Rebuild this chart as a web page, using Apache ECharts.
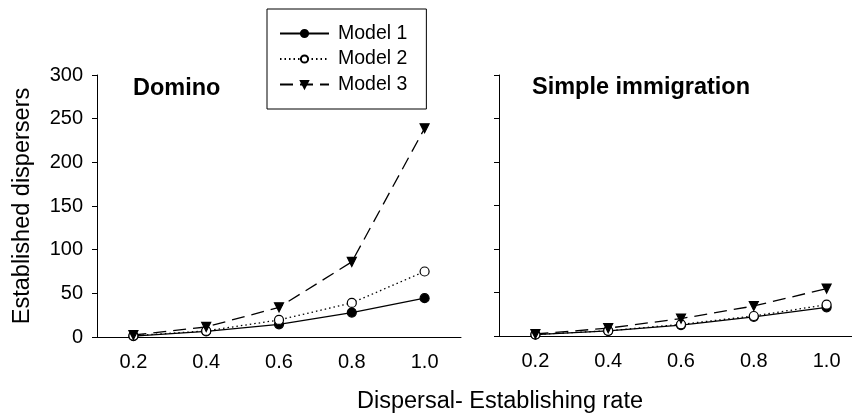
<!DOCTYPE html>
<html>
<head>
<meta charset="utf-8">
<script src="https://cdn.jsdelivr.net/npm/echarts@6/dist/echarts.min.js"></script>
<style>
  html, body { margin: 0; padding: 0; background: #fff; }
  #chart { width: 852px; height: 417px; }
</style>
</head>
<body>
<div id="chart"></div>
<script>
// dispersal-establishing rate (x categories)
const rates = ['0.2', '0.4', '0.6', '0.8', '1.0'];
const yTicks = [0, 50, 100, 150, 200, 250, 300];

// Domino panel
const dominoModel1 = [1, 6.5, 14.5, 28, 44.5];
const dominoModel2 = [1.5, 7, 19.5, 39, 75];
const dominoModel3 = [2.3, 11.5, 34, 86, 239];

// Simple immigration panel
const simpleModel1 = [1.5, 6, 12.6, 22, 33];
const simpleModel2 = [1.8, 6, 13.4, 23, 36];
const simpleModel3 = [2.3, 9, 20, 34.5, 54.5];

const FONT = 'Liberation Sans, Arial, sans-serif';
const BLACK = '#000';

const chart = echarts.init(document.getElementById('chart'));

const styles = {
  'Model 1': { symbol: 'circle', fill: BLACK, type: 'solid' },
  'Model 2': { symbol: 'circle', fill: '#fff', type: [1.5, 3] },
  'Model 3': { symbol: 'triangle', fill: BLACK, type: [13, 7], rotate: 180 },
};

function makeSeries(name, data, idx) {
  const s = styles[name];
  return {
    name,
    type: 'line',
    xAxisIndex: idx,
    yAxisIndex: idx,
    data,
    symbol: s.symbol,
    symbolSize: 9,
    symbolRotate: s.rotate || 0,
    showSymbol: true,
    lineStyle: { color: BLACK, width: 1.3, type: s.type },
    itemStyle: { color: s.fill, borderColor: BLACK, borderWidth: 1.2 },
    emphasis: { disabled: true },
  };
}

function xAxis(idx) {
  return {
    type: 'category',
    gridIndex: idx,
    data: rates,
    boundaryGap: true,
    axisLine: { lineStyle: { color: BLACK, width: 1 } },
    axisTick: { alignWithLabel: true, length: 5, lineStyle: { color: BLACK } },
    axisLabel: { color: BLACK, fontSize: 20, fontFamily: FONT, margin: 15 },
    splitLine: { show: false },
  };
}

function yAxis(idx) {
  return {
    type: 'value',
    gridIndex: idx,
    min: yTicks[0],
    max: yTicks[yTicks.length - 1],
    interval: yTicks[1] - yTicks[0],
    axisLine: { show: true, lineStyle: { color: BLACK, width: 1 } },
    axisTick: { show: true, length: 5, lineStyle: { color: BLACK } },
    axisLabel: { show: idx === 0, color: BLACK, fontSize: 20, fontFamily: FONT, margin: 14 },
    splitLine: { show: false },
    name: idx === 0 ? 'Established dispersers' : '',
    nameLocation: 'middle',
    nameGap: 62,
    nameTextStyle: { color: BLACK, fontSize: 23.5, fontFamily: FONT },
  };
}

chart.setOption({
  animation: false,
  backgroundColor: '#fff',
  title: [
    { text: 'Domino', left: 133, top: 77, padding: 0,
      textStyle: { fontSize: 23.5, fontWeight: 'bold', color: BLACK, fontFamily: FONT } },
    { text: 'Simple immigration', left: 532, top: 76, padding: 0,
      textStyle: { fontSize: 23.5, fontWeight: 'bold', color: BLACK, fontFamily: FONT } },
    { text: 'Dispersal- Establishing rate', left: 500, top: 390, textAlign: 'center', padding: 0,
      textStyle: { fontSize: 23.5, fontWeight: 'normal', color: BLACK, fontFamily: FONT } },
  ],
  legend: {
    left: 267,
    top: 9,
    orient: 'vertical',
    itemWidth: 49,
    itemHeight: 9,
    itemGap: 5.5,
    padding: [14.5, 19, 14.5, 12],
    backgroundColor: '#fff',
    borderColor: BLACK,
    borderWidth: 1,
    borderRadius: 0,
    textStyle: { color: BLACK, fontSize: 19.5, fontFamily: FONT, padding: [0, 0, 0, 4] },
    data: ['Model 1', 'Model 2', 'Model 3'],
  },
  grid: [
    { left: 97, top: 75, width: 364, height: 262, outerBoundsMode: 'none' },
    { left: 499, top: 75, width: 364, height: 261, outerBoundsMode: 'none' },
  ],
  xAxis: [xAxis(0), xAxis(1)],
  yAxis: [yAxis(0), yAxis(1)],
  series: [
    makeSeries('Model 1', dominoModel1, 0),
    makeSeries('Model 2', dominoModel2, 0),
    makeSeries('Model 3', dominoModel3, 0),
    makeSeries('Model 1', simpleModel1, 1),
    makeSeries('Model 2', simpleModel2, 1),
    makeSeries('Model 3', simpleModel3, 1),
  ],
});
</script>
</body>
</html>
